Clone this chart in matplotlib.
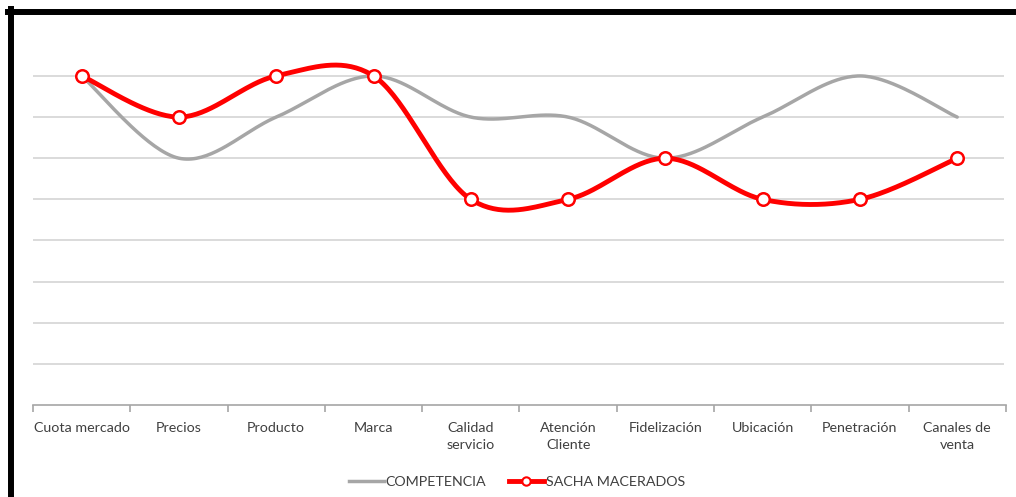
import numpy as np
import matplotlib
matplotlib.use("Agg")
import matplotlib.pyplot as plt
from matplotlib.lines import Line2D

categories = ["Cuota mercado", "Precios", "Producto", "Marca", "Calidad\nservicio",
              "Atención\nCliente", "Fidelización", "Ubicación", "Penetración", "Canales de\nventa"]
competencia = [8, 6, 7, 8, 7, 7, 6, 7, 8, 7]
sacha = [8, 7, 8, 8, 5, 5, 6, 5, 5, 6]
series_names = ["COMPETENCIA", "SACHA MACERADOS"]

plt.rcParams["font.family"] = ["Lato", "DejaVu Sans"]


def smooth(xs, ys, n=40):
    """Cubic Bezier smoothing through every point (Catmull-Rom style tangents)."""
    p = np.column_stack([xs, ys]).astype(float)
    ext = np.vstack([p[0], p, p[-1]])
    out = []
    t = np.linspace(0, 1, n)[:, None]
    for i in range(len(p) - 1):
        p0, p3 = ext[i + 1], ext[i + 2]
        c1 = p0 + (ext[i + 2] - ext[i]) / 6.0
        c2 = p3 - (ext[i + 3] - ext[i + 1]) / 6.0
        seg = ((1 - t) ** 3) * p0 + 3 * ((1 - t) ** 2) * t * c1 + 3 * (1 - t) * t ** 2 * c2 + t ** 3 * p3
        out.append(seg if i == 0 else seg[1:])
    s = np.vstack(out)
    return s[:, 0], s[:, 1]


fig = plt.figure(figsize=(10.16, 4.97), dpi=100)
ax = fig.add_axes([0.0325, 0.185, 0.9575, 0.745])

x = np.arange(len(categories))
ax.set_xlim(-0.5, len(categories) - 0.5)
ax.set_ylim(0, 9)

# horizontal gridlines
for v in range(1, 9):
    ax.axhline(v, xmax=0.997, color="#dadada", lw=1.4, zorder=1)

gx, gy = smooth(x, competencia)
ax.plot(gx, gy, color="#a6a6a6", lw=2.5, zorder=2, solid_capstyle="round")
rx, ry = smooth(x, sacha)
ax.plot(rx, ry, color="#ff0000", lw=3.5, zorder=3, solid_capstyle="round")
ax.plot(x, sacha, ls="none", marker="o", ms=9, mfc="white", mec="#ff0000", mew=1.8, zorder=4)

for s in ["top", "right", "left"]:
    ax.spines[s].set_visible(False)
ax.spines["bottom"].set_color("#a6a6a6")
ax.spines["bottom"].set_linewidth(1.2)

ax.set_yticks([])
ax.set_xticks(x)
ax.set_xticklabels(categories, fontsize=10.3, color="#404040", linespacing=1.55)
ax.tick_params(axis="x", which="major", length=0, pad=12)
ax.set_xticks(np.arange(-0.5, len(categories), 1.0), minor=True)
ax.tick_params(axis="x", which="minor", length=5, color="#a6a6a6", width=1.2)

handles = [
    Line2D([], [], color="#a6a6a6", lw=2.5),
    Line2D([], [], color="#ff0000", lw=3.5, marker="o", ms=6, mfc="white", mec="#ff0000", mew=1.5),
]
fig.legend(handles, series_names, loc="center", bbox_to_anchor=(0.509, 0.031), ncol=2,
           frameon=False, fontsize=10.3, handlelength=2.4, handletextpad=0.15,
           columnspacing=1.6, labelcolor="#404040")

# heavy black frame along the top and left
fig.add_artist(Line2D([8 / 1016, 1.0], [1 - 12 / 497, 1 - 12 / 497], color="black", lw=4.3,
                      transform=fig.transFigure))
fig.add_artist(Line2D([11 / 1016, 11 / 1016], [0.0, 1 - 9 / 497], color="black", lw=4.3,
                      transform=fig.transFigure))

fig.savefig("out.png", dpi=100)
